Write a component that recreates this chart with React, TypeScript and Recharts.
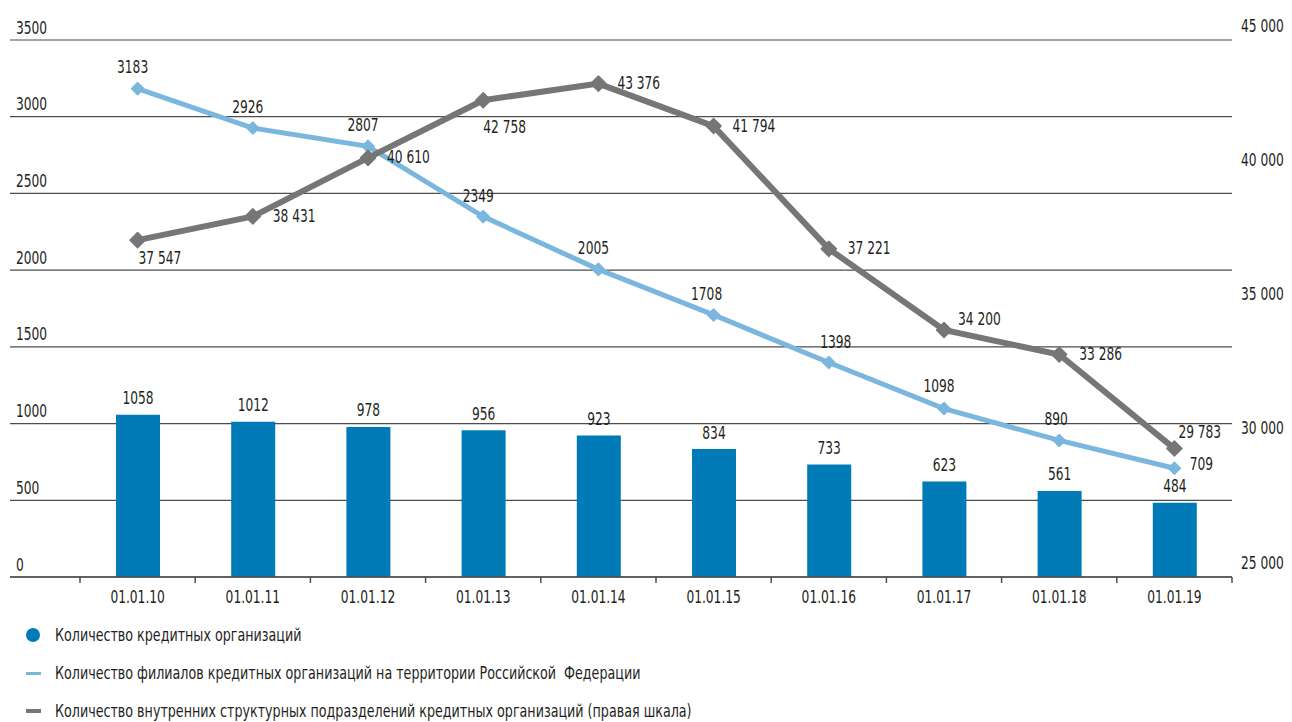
import React from "react"
import { ComposedChart, Bar, Line, XAxis, YAxis, CartesianGrid, LabelList } from "recharts"

const dates = ["01.01.10", "01.01.11", "01.01.12", "01.01.13", "01.01.14", "01.01.15", "01.01.16", "01.01.17", "01.01.18", "01.01.19"]
const orgs = [1058, 1012, 978, 956, 923, 834, 733, 623, 561, 484]
const branches = [3183, 2926, 2807, 2349, 2005, 1708, 1398, 1098, 890, 709]
const units = [37547, 38431, 40610, 42758, 43376, 41794, 37221, 34200, 33286, 29783]

const leftTicks = [0, 500, 1000, 1500, 2000, 2500, 3000, 3500]
const rightTicks = [25000, 30000, 35000, 40000, 45000]

// where each value label sits relative to its point: [dx, dy]
const branchLabelShift = [[-5, -21], [-5, -21], [-5, -21], [-5, -20], [-5, -21], [-7, -20], [7, -20], [-5, -22], [-3, -21], [27, -4]]
const unitLabelShift = [[1, 18], [20, 0], [19, 0], [0, 27], [19, 0], [19, 0], [19, 0], [14, -11], [20, 0], [4, -16]]

const FONT = "'DejaVu Sans Condensed', 'Liberation Sans Narrow', sans-serif"
const NARROW = 0.8 // squeeze the condensed face a bit more
const INK = "#231f20"
const BAR = "#007bb7"
const BLUE = "#7ab6dd"
const GRAY = "#767676"
const GRID = "#4d4d4d"

const data = dates.map((d, i) => ({ date: d, orgs: orgs[i], branches: branches[i], units: units[i] }))

const spaced = (v: number) => {
  const s = String(Math.round(v))
  return s.length > 3 ? s.slice(0, -3) + " " + s.slice(-3) : s
}

const T = ({ x, y, anchor = "middle", children }: any) => (
  <text
    transform={`translate(${x} ${y}) scale(${NARROW} 1)`}
    textAnchor={anchor}
    dominantBaseline="central"
    fontFamily={FONT}
    fontSize={17}
    fill={INK}
  >
    {children}
  </text>
)

const LeftTick = ({ x, y, payload }: any) => <T x={x} y={y - 12} anchor="start">{payload.value}</T>

const RightTick = ({ x, y, payload }: any) => <T x={x} y={y - 14} anchor="start">{spaced(payload.value)}</T>

const DateTick = ({ x, y, payload, index }: any) => {
  const half = payload.offset || 57.6
  return (
    <g>
      <line x1={x - half} x2={x - half} y1={y} y2={y + 6} stroke={GRID} strokeWidth={1.5} />
      {index === dates.length - 1 && <line x1={x + half} x2={x + half} y1={y} y2={y + 6} stroke={GRID} strokeWidth={1.5} />}
      <T x={x} y={y + 20}>{payload.value}</T>
    </g>
  )
}

const diamond = (color: string, r: number) => (p: any) => {
  const { cx, cy, index } = p
  if (cx == null || cy == null) return <g key={index} />
  return (
    <polygon
      key={index}
      points={`${cx},${cy - r} ${cx + r},${cy} ${cx},${cy + r} ${cx - r},${cy}`}
      fill={color}
      stroke={color}
      strokeWidth={1.5}
      strokeLinejoin="round"
    />
  )
}

const BarLabel = ({ x, y, width, value }: any) => <T x={x + width / 2} y={y - 16}>{value}</T>

const BranchLabel = ({ x, y, value, index }: any) => {
  const [dx, dy] = branchLabelShift[index]
  return <T x={x + dx} y={y + dy}>{value}</T>
}

const UnitLabel = ({ x, y, value, index }: any) => {
  const [dx, dy] = unitLabelShift[index]
  return <T x={x + dx} y={y + dy} anchor="start">{spaced(value)}</T>
}

const legendItems = [
  { label: "Количество кредитных организаций", marker: <div style={{ width: 14, height: 14, borderRadius: 7, background: BAR }} /> },
  { label: "Количество филиалов кредитных организаций на территории Российской  Федерации", marker: <div style={{ width: 15, height: 3, background: BLUE }} /> },
  { label: "Количество внутренних структурных подразделений кредитных организаций (правая шкала)", marker: <div style={{ width: 15, height: 4, background: GRAY }} /> },
]

export default function App() {
  return (
    <div style={{ width: 1284, fontFamily: FONT }}>
      <ComposedChart width={1284} height={602} data={data} margin={{ top: 32, right: 4, left: 2, bottom: 0 }}>
        <CartesianGrid yAxisId="left" horizontal vertical={false} stroke={GRID} strokeWidth={1.2} />
        <XAxis
          dataKey="date"
          padding={{ left: 70, right: 0 }}
          axisLine={{ stroke: GRID, strokeWidth: 1.5 }}
          tickLine={false}
          tickSize={0}
          tickMargin={0}
          height={33}
          interval={0}
          tick={<DateTick />}
        />
        <YAxis
          yAxisId="left"
          mirror
          domain={[0, 3500]}
          ticks={leftTicks}
          axisLine={false}
          tickLine={false}
          tickSize={0}
          tickMargin={6}
          tick={<LeftTick />}
          interval={0}
        />
        <YAxis
          yAxisId="right"
          orientation="right"
          width={56}
          domain={[25000, 45000]}
          ticks={rightTicks}
          axisLine={false}
          tickLine={false}
          tickSize={0}
          tickMargin={9}
          tick={<RightTick />}
          interval={0}
        />
        <Bar yAxisId="left" dataKey="orgs" fill={BAR} barSize={44} isAnimationActive={false}>
          <LabelList dataKey="orgs" content={<BarLabel />} />
        </Bar>
        <Line yAxisId="left" dataKey="branches" stroke={BLUE} strokeWidth={5} dot={diamond(BLUE, 6)} activeDot={false} isAnimationActive={false}>
          <LabelList dataKey="branches" content={<BranchLabel />} />
        </Line>
        <Line yAxisId="right" dataKey="units" stroke={GRAY} strokeWidth={6} dot={diamond(GRAY, 7.5)} activeDot={false} isAnimationActive={false}>
          <LabelList dataKey="units" content={<UnitLabel />} />
        </Line>
      </ComposedChart>
      <div style={{ marginTop: 6 }}>
        {legendItems.map((it) => (
          <div key={it.label} style={{ height: 38, display: "flex", alignItems: "center", fontSize: 17, color: INK }}>
            <div style={{ width: 16, marginLeft: 17, marginRight: 14, display: "flex", justifyContent: "center" }}>{it.marker}</div>
            <span style={{ whiteSpace: "pre", display: "inline-block", transform: `scaleX(${NARROW + 0.03})`, transformOrigin: "left center" }}>{it.label}</span>
          </div>
        ))}
      </div>
    </div>
  )
}
